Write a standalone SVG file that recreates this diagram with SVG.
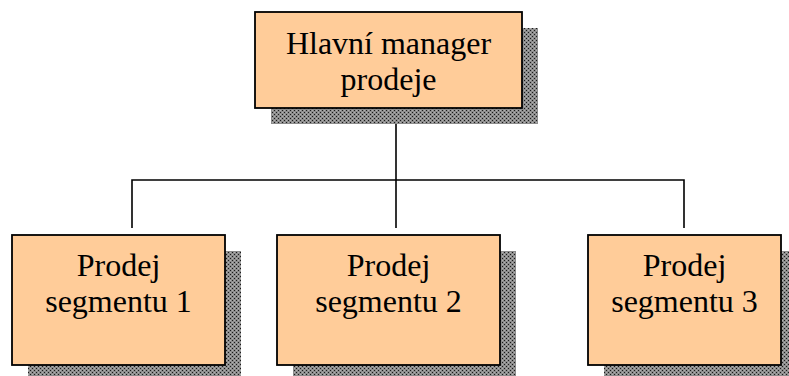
<svg xmlns="http://www.w3.org/2000/svg" width="789" height="376" viewBox="0 0 789 376">
  <defs>
    <!-- stippled drop shadow texture -->
    <pattern id="stipple" width="4" height="4" patternUnits="userSpaceOnUse">
      <rect width="4" height="4" fill="#8c8c8c"/>
      <rect x="0" y="0" width="1" height="1" fill="#1a1a1a"/>
      <rect x="2" y="2" width="1" height="1" fill="#1a1a1a"/>
      <rect x="2" y="0" width="1" height="1" fill="#b0b0b0"/>
      <rect x="0" y="2" width="1" height="1" fill="#b0b0b0"/>
    </pattern>
  </defs>
  <style>
    .shadow { fill: url(#stipple); }
    .box { fill: #FFCC99; stroke: #000; stroke-width: 1.8; }
    .label { font-family: "Liberation Serif", "Times New Roman", serif; font-size: 32px; fill: #000; text-anchor: middle; }
    .wire { fill: none; stroke: #000; stroke-width: 1.6; }
  </style>
  <rect width="789" height="376" fill="#fff"/>

  <g id="connectors">
    <path class="wire" d="M396 108 V228"/>
    <path class="wire" d="M132 228 V180 H684 V228"/>
  </g>

  <g id="node-manager">
    <rect class="shadow" x="271" y="28" width="267" height="96"/>
    <rect class="box" x="255" y="12" width="267" height="96"/>
    <text class="label" x="388.5" y="54">Hlavní manager</text>
    <text class="label" x="388.5" y="90">prodeje</text>
  </g>

  <g id="node-segment-1">
    <rect class="shadow" x="28" y="251" width="213" height="125"/>
    <rect class="box" x="12" y="235" width="213" height="130"/>
    <text class="label" x="118.5" y="276">Prodej</text>
    <text class="label" x="118.5" y="312">segmentu 1</text>
  </g>

  <g id="node-segment-2">
    <rect class="shadow" x="293" y="251" width="223" height="125"/>
    <rect class="box" x="277" y="235" width="223" height="130"/>
    <text class="label" x="388.5" y="276">Prodej</text>
    <text class="label" x="388.5" y="312">segmentu 2</text>
  </g>

  <g id="node-segment-3">
    <rect class="shadow" x="604" y="251" width="193" height="125"/>
    <rect class="box" x="588" y="235" width="193" height="130"/>
    <text class="label" x="684.5" y="276">Prodej</text>
    <text class="label" x="684.5" y="312">segmentu 3</text>
  </g>
</svg>
